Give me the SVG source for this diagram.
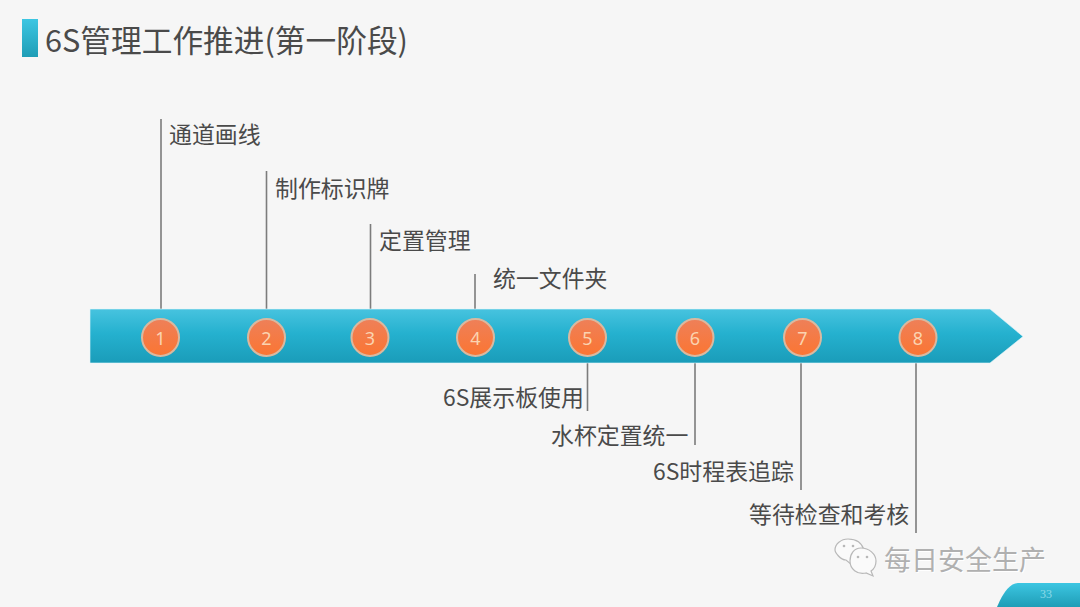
<svg xmlns="http://www.w3.org/2000/svg" width="1080" height="607" viewBox="0 0 1080 607">
<defs>
<linearGradient id="bar" x1="0" y1="0" x2="0" y2="1"><stop offset="0" stop-color="#47c3df"/><stop offset="0.45" stop-color="#25b1cf"/><stop offset="1" stop-color="#1a9cb9"/></linearGradient>
<linearGradient id="tab" x1="0" y1="0" x2="0" y2="1"><stop offset="0" stop-color="#3cc6e2"/><stop offset="1" stop-color="#1f9db6"/></linearGradient>
<linearGradient id="ball" x1="0" y1="0" x2="0" y2="1"><stop offset="0" stop-color="#ee8059"/><stop offset="1" stop-color="#fb7532"/></linearGradient>
</defs>
<style>
text{font-family:"Noto Sans CJK SC","Liberation Sans",sans-serif;}
.lbl{font-size:22.900px;fill:#4a4a4a;}
.num{font-size:18px;fill:#fbd3b0;text-anchor:middle;font-family:"Noto Sans","Noto Sans CJK SC",sans-serif;}
.ball{fill:url(#ball);stroke:#d9b9a0;stroke-width:2;}
.ln{stroke:#7c7c7c;stroke-width:1.6;fill:none;}
.bub{fill:#fafafa;stroke:#b8b8b8;stroke-width:1.2;}
.dot{fill:#b8b8b8;}
</style>
<rect width="1080" height="607" fill="#f6f6f6"/>
<g id="title">
<rect x="22" y="19" width="16" height="38" fill="url(#tab)"/>
<text x="45" y="52" font-size="30.700" fill="#4a4a4a">6S管理工作推进(第一阶段)</text>
</g>
<g id="connectors">
<path class="ln" d="M161 119V320"/>
<path class="ln" d="M266.500 171V320"/>
<path class="ln" d="M370.500 224V320"/>
<path class="ln" d="M475 274V320"/>
<path class="ln" d="M587.500 355V411"/>
<path class="ln" d="M695 355V445"/>
<path class="ln" d="M801 355V490"/>
<path class="ln" d="M916 355V533"/>
</g>
<g id="bar">
<path d="M90 309H990L1023 336.500L990 363H90Z" fill="url(#bar)" stroke="#e4f7fb" stroke-width="1" stroke-opacity="0.6"/>
</g>
<g id="node1"><circle class="ball" cx="160.500" cy="337.500" r="18.500"/><text class="num" x="160.500" y="345">1</text><text class="lbl" x="169" y="143">通道画线</text></g>
<g id="node2"><circle class="ball" cx="266.500" cy="337.500" r="18.500"/><text class="num" x="266.500" y="345">2</text><text class="lbl" x="275" y="197">制作标识牌</text></g>
<g id="node3"><circle class="ball" cx="370" cy="337.500" r="18.500"/><text class="num" x="370" y="345">3</text><text class="lbl" x="379" y="249">定置管理</text></g>
<g id="node4"><circle class="ball" cx="475.500" cy="337.500" r="18.500"/><text class="num" x="475.500" y="345">4</text><text class="lbl" x="493" y="287">统一文件夹</text></g>
<g id="node5"><circle class="ball" cx="587.500" cy="337.500" r="18.500"/><text class="num" x="587.500" y="345">5</text><text class="lbl" x="443" y="406">6S展示板使用</text></g>
<g id="node6"><circle class="ball" cx="695" cy="337.500" r="18.500"/><text class="num" x="695" y="345">6</text><text class="lbl" x="551" y="444">水杯定置统一</text></g>
<g id="node7"><circle class="ball" cx="802.500" cy="337.500" r="18.500"/><text class="num" x="802.500" y="345">7</text><text class="lbl" x="653" y="480">6S时程表追踪</text></g>
<g id="node8"><circle class="ball" cx="918" cy="337.500" r="18.500"/><text class="num" x="918" y="345">8</text><text class="lbl" x="749" y="523">等待检查和考核</text></g>
<g id="watermark">
<path class="bub" d="M848 539C856 539 862 543 864 550C856 550 850 556 852 565L846 560C840 560 835 552 835 550C835 544 841 539 848 539Z"/>
<path class="bub" d="M861 548C869 548 876 554 876 561C876 566 874 569 871 571L873 576L866 573C857 575 850 569 850 561C850 554 854 548 861 548Z"/>
<circle class="dot" cx="844" cy="546" r="1.300"/><circle class="dot" cx="853" cy="546" r="1.300"/>
<circle class="dot" cx="858" cy="557" r="1.300"/><circle class="dot" cx="867" cy="557" r="1.300"/>
<text x="885" y="571" font-size="27" fill="#fff">每日安全生产</text>
<text x="884" y="570" font-size="27" fill="#b0b0b0">每日安全生产</text>
</g>
<g id="footer">
<path d="M997 607Q1007 583 1018 583H1080V607Z" fill="url(#tab)"/>
<text x="1046" y="598" font-size="12" fill="#8fdbe9" text-anchor="middle" style="font-family:'Liberation Serif',serif">33</text>
</g>
</svg>
